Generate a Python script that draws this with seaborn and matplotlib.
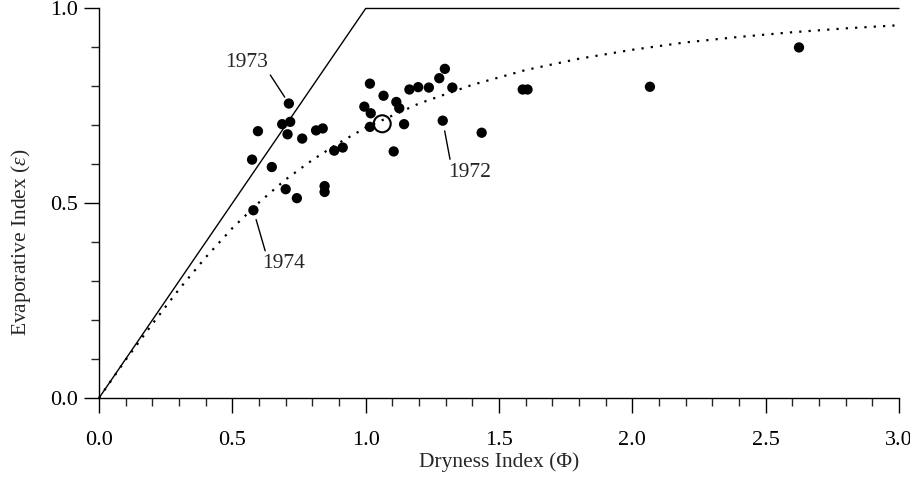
import numpy as np
import pandas as pd
import seaborn as sns
import matplotlib.pyplot as plt
import matplotlib.ticker as mticker

# punti osservati (indice di aridita, indice evaporativo)
dryness = [0.574, 0.596, 0.579, 0.648, 0.687, 0.700, 0.707, 0.712, 0.717, 0.742,
           0.762, 0.814, 0.839, 0.846, 0.846, 0.882, 0.914, 0.995, 1.016, 1.016,
           1.019, 1.067, 1.105, 1.115, 1.126, 1.144, 1.164, 1.197, 1.237, 1.276,
           1.289, 1.297, 1.325, 1.435, 1.589, 1.607, 2.066, 2.625]
evaporative = [0.612, 0.685, 0.482, 0.593, 0.703, 0.536, 0.677, 0.756, 0.709, 0.513,
               0.666, 0.687, 0.692, 0.544, 0.529, 0.635, 0.643, 0.748, 0.807, 0.696,
               0.731, 0.776, 0.633, 0.760, 0.744, 0.703, 0.792, 0.798, 0.797, 0.821,
               0.712, 0.845, 0.797, 0.681, 0.792, 0.792, 0.799, 0.900]

# valore medio (cerchio vuoto)
mean_dryness = [1.062]
mean_evaporative = [0.704]

# limiti energia / acqua
limit_x = [0.0, 1.0, 3.0]
limit_y = [0.0, 1.0, 1.0]

# curva tratteggiata
curve_x = [0.0, 0.1, 0.2, 0.3, 0.4, 0.5, 0.6, 0.7, 0.8, 0.9, 1.0,
           1.2, 1.4, 1.6, 1.8, 2.0, 2.2, 2.4, 2.6, 2.8, 3.0]
curve_y = [0.0, 0.098, 0.190, 0.279, 0.361, 0.436, 0.502, 0.561, 0.611, 0.655, 0.694,
           0.756, 0.804, 0.842, 0.871, 0.894, 0.913, 0.927, 0.939, 0.949, 0.957]

# anni evidenziati
years = ['1973', '1974', '1972']
year_points = [(0.712, 0.756), (0.579, 0.482), (1.289, 0.712)]
year_text = [(0.554, 0.862), (0.691, 0.345), (1.391, 0.580)]

sns.set_style("ticks")
plt.rcParams['font.family'] = ['Liberation Serif', 'DejaVu Serif']
plt.rcParams['mathtext.fontset'] = 'custom'
plt.rcParams['mathtext.rm'] = 'Liberation Serif'
plt.rcParams['mathtext.it'] = 'Liberation Serif:italic'

fig = plt.figure(figsize=(9.1, 4.82), dpi=100)
ax = fig.add_axes([0.1088, 0.1743, 0.8791, 0.8081])

sns.lineplot(x=limit_x, y=limit_y, sort=False, color='black', linewidth=1.0,
             ax=ax, clip_on=False)
sns.lineplot(x=curve_x, y=curve_y, sort=False, color='black', linewidth=1.6,
             dashes=False, ax=ax, clip_on=False)
ax.lines[-1].set_dashes((1, 3.2))
ax.lines[-1].set_dash_capstyle('butt')

df = pd.DataFrame({'phi': dryness, 'eps': evaporative})
sns.scatterplot(data=df, x='phi', y='eps', color='black', s=55, edgecolor='none',
                ax=ax, zorder=3, clip_on=False)
sns.scatterplot(x=mean_dryness, y=mean_evaporative, s=150, facecolor='none',
                edgecolor='black', linewidth=1.5, ax=ax, zorder=4)

for label, pt, txt in zip(years, year_points, year_text):
    if label == '1973':
        rel, shrink = (1.0, 0.0), 5.5
    elif label == '1974':
        rel, shrink = (0.1, 1.0), 7
    else:
        rel, shrink = (0.05, 1.0), 7.5
    ax.annotate(label, xy=pt, xytext=txt, textcoords='data', fontsize=15.5,
                ha='center', va='center',
                arrowprops=dict(arrowstyle='-', color='black', lw=1.0,
                                relpos=rel, shrinkA=0, shrinkB=shrink))

ax.set_xlim(0, 3.0)
ax.set_ylim(0, 1.0)
ax.xaxis.set_major_locator(mticker.MultipleLocator(0.5))
ax.xaxis.set_minor_locator(mticker.MultipleLocator(0.1))
ax.yaxis.set_major_locator(mticker.MultipleLocator(0.5))
ax.yaxis.set_minor_locator(mticker.MultipleLocator(0.1))
ax.xaxis.set_major_formatter(mticker.FormatStrFormatter('%.1f'))
ax.yaxis.set_major_formatter(mticker.FormatStrFormatter('%.1f'))

ax.tick_params(which='major', direction='out', length=11, width=1.0,
               labelsize=16, colors='black')
ax.tick_params(which='minor', direction='out', length=5.5, width=1.0)
ax.tick_params(axis='x', which='major', pad=13)
ax.tick_params(axis='y', which='major', pad=4)

sns.despine(ax=ax, top=True, right=True)
for side in ['left', 'bottom']:
    ax.spines[side].set_linewidth(1.0)
    ax.spines[side].set_color('black')

ax.set_xlabel('Dryness Index (\u03a6)', fontsize=15.5)
ax.set_ylabel('Evaporative Index ($\u03b5$)', fontsize=15.5)
ax.xaxis.set_label_coords(0.5, -0.14)
ax.yaxis.set_label_coords(-0.083, 0.4)

fig.savefig('out.png', dpi=100)
